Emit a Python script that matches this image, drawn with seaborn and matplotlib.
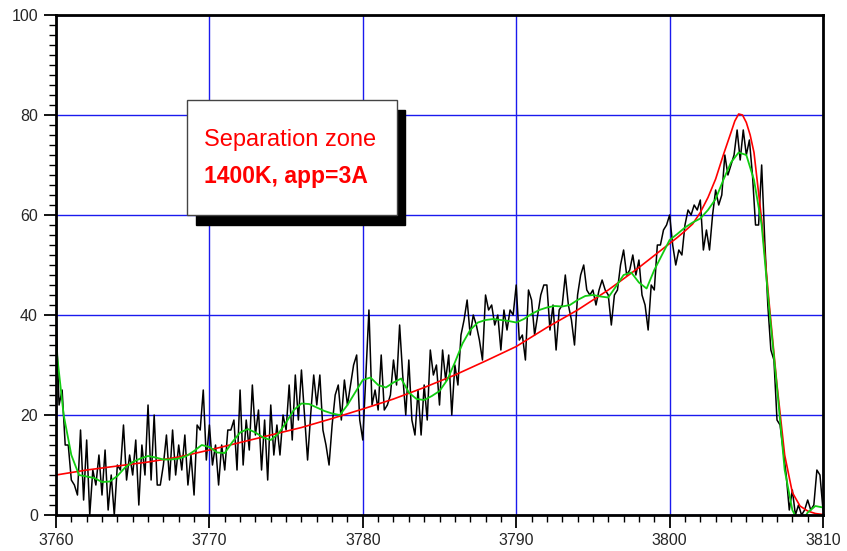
"""
plot.py
Separation zone spectrum: raw signal (black), smoothed signal (green)
and fitted profile (red).
"""

import numpy as np
import pandas as pd
import matplotlib
matplotlib.use("Agg")
import matplotlib.pyplot as plt
from matplotlib.patches import Rectangle
from matplotlib.ticker import MultipleLocator
import seaborn as sns

# ---------------------------------------------------------
# Data
# ---------------------------------------------------------
X_START, X_END = 3760, 3810

# raw signal, sampled every 0.2 from 3760 to 3810
raw_values = [
    40, 22, 25, 14, 14, 7, 6, 4, 17, 3,
    15, 0, 9, 6, 12, 4, 13, 1, 8, 0,
    10, 9, 18, 7, 12, 8, 15, 2, 14, 8,
    22, 7, 20, 6, 6, 10, 16, 7, 17, 8,
    14, 9, 16, 6, 12, 4, 18, 17, 25, 11,
    18, 10, 14, 6, 14, 9, 17, 17, 19, 9,
    25, 10, 19, 13, 26, 16, 21, 9, 19, 7,
    22, 12, 18, 12, 20, 17, 26, 15, 28, 19,
    29, 20, 11, 20, 28, 22, 28, 17, 14, 10,
    18, 24, 26, 19, 27, 22, 26, 30, 32, 19,
    15, 28, 41, 22, 25, 21, 32, 21, 22, 24,
    31, 26, 38, 28, 20, 31, 19, 16, 25, 16,
    26, 19, 33, 28, 30, 22, 33, 27, 32, 20,
    30, 26, 36, 39, 43, 36, 40, 38, 35, 31,
    44, 41, 42, 38, 40, 33, 41, 37, 41, 40,
    46, 35, 36, 31, 45, 43, 36, 40, 44, 46,
    46, 37, 42, 33, 41, 42, 48, 42, 39, 34,
    44, 48, 50, 45, 44, 45, 42, 45, 47, 45,
    44, 38, 44, 45, 50, 53, 48, 49, 52, 48,
    51, 44, 42, 37, 46, 45, 54, 54, 57, 58,
    60, 54, 50, 53, 52, 58, 61, 60, 62, 61,
    63, 53, 57, 53, 60, 65, 62, 64, 72, 68,
    70, 72, 77, 71, 77, 72, 75, 68, 58, 58,
    70, 55, 42, 33, 31, 19, 18, 13, 8, 1,
    5, 0, 2, 0, 1, 3, 1, 2, 9, 8, 1,
]
raw_x = np.linspace(X_START, X_END, len(raw_values))

# smoothed signal, every 0.5
smooth_values = [
    34, 20, 12, 8, 7.7, 7.4, 6.6, 6.7, 7.8, 9.5,
    10.6, 11.3, 11.8, 11.5, 11.1, 11.1, 11.3, 11.8, 12.8, 14,
    13.6, 12.5, 12.4, 14.6, 16.5, 17.2, 16.5, 15.5, 15, 16.3,
    18.5, 21, 22.3, 22.2, 21.5, 20.8, 20.3, 20, 22, 24.5,
    27, 27.5, 26, 25.5, 26.5, 27.3, 24.5, 23.2, 23, 23.8,
    24.8, 27, 30.5, 34.3, 37, 38.5, 39, 39.2, 39, 38.8,
    38.5, 39.2, 40.2, 41, 41.5, 41.8, 41.7, 42, 43, 43.8,
    44, 43.7, 43.5, 45.7, 48, 48.5, 46.5, 45.3, 49, 52,
    55, 56.2, 57.5, 58.5, 59.3, 61, 63.2, 67, 70.5, 72.5,
    72, 67, 58, 41, 25.5, 9, 1, -2, 0.5, 1.8, 1.5,
]
smooth_x = np.linspace(X_START, X_END, len(smooth_values))

# fitted profile
fit_x = [3760, 3762, 3764, 3766, 3768, 3770, 3772, 3774, 3776, 3778,
         3780, 3782, 3784, 3786, 3788, 3790, 3792, 3794, 3796, 3798,
         3800, 3800.5, 3801, 3801.5, 3802, 3802.5, 3803, 3803.5, 3804,
         3804.25, 3804.5, 3804.75, 3805, 3805.25, 3805.5, 3806, 3806.5,
         3807, 3807.5, 3808, 3808.5, 3809, 3809.5, 3810]
fit_values = [8, 9, 9.8, 10.6, 11.6, 13, 14.5, 16, 17.5, 19.3,
              21.2, 23.2, 25.5, 28, 30.8, 33.7, 37.5, 41, 45, 49.5,
              54.3, 55.5, 56.8, 58.2, 60.5, 63.5, 67.2, 72, 76.5,
              78.8, 80.2, 80, 78.5, 76, 72.5, 59, 42,
              26, 12, 4.5, 1.8, 0.8, 0.3, 0.1]

x_ticks = [3760, 3770, 3780, 3790, 3800, 3810]
y_ticks = [0, 20, 40, 60, 80, 100]

# ---------------------------------------------------------
# Plot
# ---------------------------------------------------------
sns.set_style("white")
plt.rcParams["font.family"] = ["Liberation Sans", "DejaVu Sans"]

fig = plt.figure(figsize=(8.47, 5.51), dpi=100)
ax = fig.add_axes([0.0661, 0.0653, 0.9056, 0.9075])

raw_df = pd.DataFrame({"x": raw_x, "y": raw_values})
smooth_df = pd.DataFrame({"x": smooth_x, "y": smooth_values})
fit_df = pd.DataFrame({"x": fit_x, "y": fit_values})

sns.lineplot(data=raw_df, x="x", y="y", ax=ax, color="black",
             linewidth=1.1, estimator=None, zorder=3)
sns.lineplot(data=fit_df, x="x", y="y", ax=ax, color="#ff0000",
             linewidth=1.2, estimator=None, zorder=4)
sns.lineplot(data=smooth_df, x="x", y="y", ax=ax, color="#11cc11",
             linewidth=1.3, estimator=None, zorder=5)

ax.set_xlim(X_START, X_END)
ax.set_ylim(0, 100)
ax.set_xticks(x_ticks)
ax.set_yticks(y_ticks)
ax.xaxis.set_minor_locator(MultipleLocator(1))
ax.yaxis.set_minor_locator(MultipleLocator(2))
ax.set_xlabel("")
ax.set_ylabel("")

ax.grid(True, which="major", color="#1a1aee", linewidth=1.0, zorder=1)
ax.set_axisbelow(True)

ax.tick_params(axis="both", which="major", direction="out", length=9,
               width=1.3, color="black", labelsize=11.5, pad=4,
               bottom=True, left=True)
ax.tick_params(axis="both", which="minor", direction="out", length=5,
               width=1.0, color="black", bottom=True, left=True)

for side in ["left", "bottom", "top", "right"]:
    ax.spines[side].set_color("black")
    ax.spines[side].set_linewidth(2.0)
    ax.spines[side].set_zorder(6)

# annotation box with drop shadow
box_x, box_y, box_w, box_h = 3768.56, 60.0, 13.65, 23.0
ax.add_patch(Rectangle((box_x + 0.55, box_y - 2.0), box_w, box_h,
                       facecolor="black", edgecolor="black", zorder=7))
ax.add_patch(Rectangle((box_x, box_y), box_w, box_h,
                       facecolor="white", edgecolor="#444444",
                       linewidth=1.0, zorder=8))
ax.text(3769.65, 75.0, "Separation zone", color="#ff0000", fontsize=17,
        va="center", ha="left", zorder=9)
ax.text(3769.65, 67.6, "1400K, app=3A", color="#ff0000", fontsize=16.5,
        fontweight="bold", va="center", ha="left", zorder=9)

fig.savefig("out.png", dpi=100)
plt.close(fig)
